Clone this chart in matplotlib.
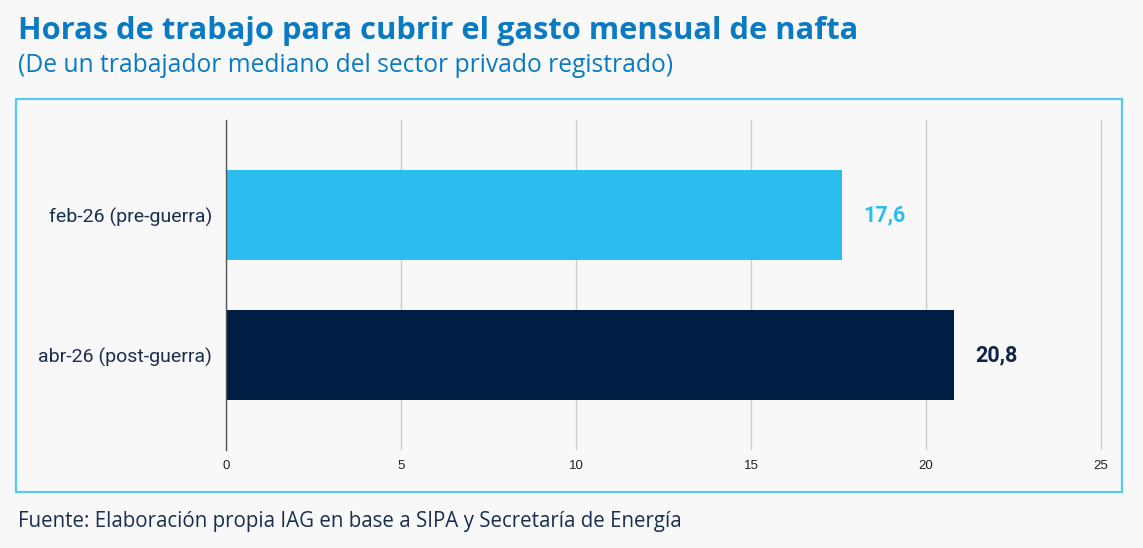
import matplotlib
matplotlib.use("Agg")
import matplotlib.pyplot as plt
from matplotlib.patches import Rectangle

categories = ["feb-26 (pre-guerra)", "abr-26 (post-guerra)"]
values = [17.6, 20.8]
value_labels = ["17,6", "20,8"]
bar_colors = ["#2bbdee", "#001e44"]
label_colors = ["#2bbdee", "#0f2447"]
xticks = [0, 5, 10, 15, 20, 25]

W, H = 1143, 548
fig = plt.figure(figsize=(W / 100, H / 100), dpi=100)
bg = "#f8f8f8"
fig.patch.set_facecolor(bg)

# outer box
fig.add_artist(Rectangle((16 / W, 1 - 492 / H), (1122 - 16) / W, (492 - 99) / H,
                         transform=fig.transFigure, fill=False,
                         edgecolor="#5ac8f0", linewidth=1.6))

ax = fig.add_axes([226 / W, 1 - 450 / H, (1103 - 226) / W, (450 - 120) / H])
ax.set_facecolor(bg)
ypos = [1, 0]
ax.barh(ypos, values, height=0.643, color=bar_colors, zorder=3)
ax.set_xlim(0, 25.06)
ax.set_ylim(-0.679, 1.679)
ax.set_xticks(xticks)
ax.set_xticklabels([str(t) for t in xticks], fontsize=9.5, color="#222222",
                   family="Liberation Sans")
ax.set_yticks(ypos)
ax.set_yticklabels(categories, fontsize=14, color="#1a2e4f", family="Roboto")
ax.tick_params(axis="both", length=0)
ax.tick_params(axis="x", pad=7)
ax.tick_params(axis="y", pad=10)
for s in ["top", "right", "bottom"]:
    ax.spines[s].set_visible(False)
ax.spines["left"].set_color("#555555")
ax.spines["left"].set_linewidth(1.0)
ax.spines["left"].set_zorder(4)
ax.grid(axis="x", color="#cccccc", linewidth=1.0, zorder=0)
ax.grid(axis="y", visible=False)

for y, v, lab, c in zip(ypos, values, value_labels, label_colors):
    ax.text(v + 0.6, y, lab, va="center", ha="left", fontsize=15.5,
            fontweight="bold", color=c, family="Roboto")

fig.text(18 / W, 1 - 31 / H, "Horas de trabajo para cubrir el gasto mensual de nafta",
         fontsize=22.2, fontweight="bold", color="#0a7ac2", family="Open Sans",
         va="center", ha="left")
fig.text(18 / W, 1 - 66 / H, "(De un trabajador mediano del sector privado registrado)",
         fontsize=17.7, color="#0a7ac2", family="Open Sans", va="center", ha="left")
fig.text(18 / W, 1 - 522 / H, "Fuente: Elaboración propia IAG en base a SIPA y Secretaría de Energía",
         fontsize=14.8, color="#1a2e4f", family="Open Sans", va="center", ha="left")

fig.savefig("out.png", dpi=100, facecolor=bg)
